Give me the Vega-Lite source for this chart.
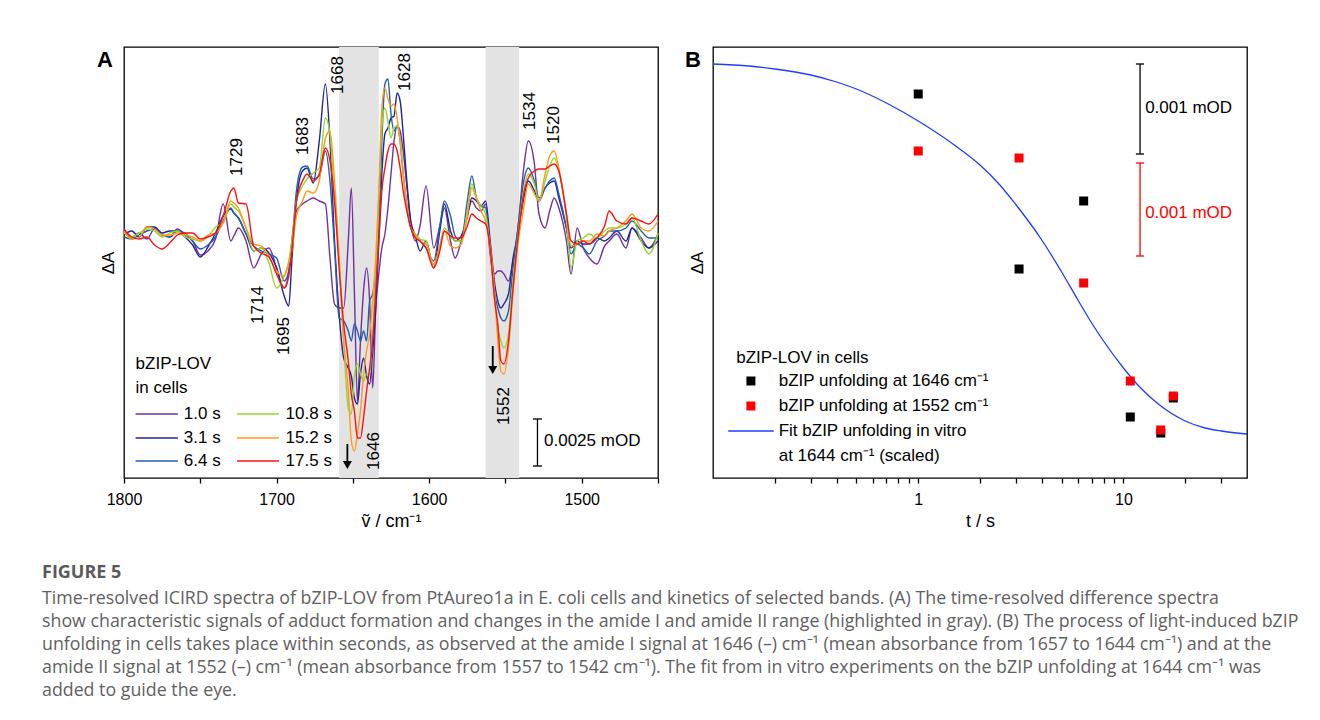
{
"$schema":"https://vega.github.io/schema/vega-lite/v6.json",
"background":"white",
"padding":{"left":42,"top":46,"right":10,"bottom":10},
"config":{
 "view":{"stroke":"black","strokeWidth":1.3},
 "font":"Liberation Sans",
 "axis":{"labelFont":"Liberation Sans","titleFont":"Liberation Sans","labelFontSize":16,"titleFontSize":17,"titleFontWeight":"normal","labelColor":"black","titleColor":"black","tickColor":"black","grid":false,"domain":false},
 "text":{"font":"Liberation Sans","fontSize":17}
},
"title":{"text":"FIGURE 5","subtitle":["Time-resolved ICIRD spectra of bZIP-LOV from PtAureo1a in E. coli cells and kinetics of selected bands. (A) The time-resolved difference spectra","show characteristic signals of adduct formation and changes in the amide I and amide II range (highlighted in gray). (B) The process of light-induced bZIP","unfolding in cells takes place within seconds, as observed at the amide I signal at 1646 (–) cm⁻¹ (mean absorbance from 1657 to 1644 cm⁻¹) and at the","amide II signal at 1552 (–) cm⁻¹ (mean absorbance from 1557 to 1542 cm⁻¹). The fit from in vitro experiments on the bZIP unfolding at 1644 cm⁻¹ was","added to guide the eye."],
 "orient":"bottom","anchor":"start","frame":"group","dx":-82,"offset":33,"font":"Open Sans","fontSize":18,"fontWeight":"bold","color":"#5a5a5a","subtitleFont":"Open Sans","subtitleFontSize":17.8,"subtitleColor":"#5f5f5f","subtitleLineHeight":23,"subtitlePadding":8,"limit":1300},
"spacing":55,
"bounds":"flush",
"resolve":{"scale":{"color":"independent"}},
"hconcat":[
{
 "width":534,"height":431,
 "title":{"text":"A","anchor":"start","frame":"group","dx":-27,"dy":25,"offset":0,"fontSize":22,"fontWeight":"bold","font":"Liberation Sans","color":"black"},
 "encoding":{
  "x":{"field":"w","type":"quantitative","scale":{"domain":[1450,1800],"reverse":true,"nice":false,"zero":false},
   "axis":{"title":"ṽ / cm⁻¹","values":[1800,1750,1700,1650,1600,1550,1500,1450],"format":"d","labelExpr":"datum.value % 100 === 0 ? datum.label : ''","tickSize":5,"tickWidth":1.3,"labelPadding":8,"titlePadding":5,"titleFontSize":18,"labelFlush":false,"labelOverlap":false}},
  "y":{"field":"v","type":"quantitative","scale":{"domain":[-245,186],"nice":false,"zero":false},
   "axis":{"title":"ΔA","labels":false,"ticks":false,"titlePadding":7,"titleFontSize":17}}
 },
 "layer":[
  {"data":{"values":[{"w":1659,"w2":1633,"v":186,"v2":-245},{"w":1563,"w2":1541,"v":186,"v2":-245}]},
   "mark":{"type":"rect","color":"#e3e3e3"},
   "encoding":{"x2":{"field":"w2"},"y2":{"field":"v2"}}},
  {"data":{"values":[
{"t":"1.0 s","w":1800,"v":2},{"t":"1.0 s","w":1795,"v":-4},{"t":"1.0 s","w":1790,"v":0},{"t":"1.0 s","w":1785,"v":-6},{"t":"1.0 s","w":1780,"v":4},{"t":"1.0 s","w":1775,"v":-2},{"t":"1.0 s","w":1770,"v":-4},{"t":"1.0 s","w":1765,"v":4},{"t":"1.0 s","w":1760,"v":-2},{"t":"1.0 s","w":1755,"v":-8},{"t":"1.0 s","w":1750,"v":-22},{"t":"1.0 s","w":1745,"v":-18},{"t":"1.0 s","w":1740,"v":-6},{"t":"1.0 s","w":1735,"v":29},{"t":"1.0 s","w":1730,"v":-8},{"t":"1.0 s","w":1728,"v":-3},{"t":"1.0 s","w":1725,"v":5},{"t":"1.0 s","w":1720,"v":-8},{"t":"1.0 s","w":1715,"v":-35},{"t":"1.0 s","w":1710,"v":-21},{"t":"1.0 s","w":1705,"v":-15},{"t":"1.0 s","w":1700,"v":-35},{"t":"1.0 s","w":1695,"v":-55},{"t":"1.0 s","w":1692,"v":-38},{"t":"1.0 s","w":1690,"v":-8},{"t":"1.0 s","w":1687,"v":22},{"t":"1.0 s","w":1683,"v":29},{"t":"1.0 s","w":1680,"v":32},{"t":"1.0 s","w":1676,"v":35},{"t":"1.0 s","w":1672,"v":32},{"t":"1.0 s","w":1668,"v":29},{"t":"1.0 s","w":1665,"v":-25},{"t":"1.0 s","w":1662,"v":-71},{"t":"1.0 s","w":1659,"v":-75},{"t":"1.0 s","w":1656,"v":-75},{"t":"1.0 s","w":1653,"v":-8},{"t":"1.0 s","w":1651,"v":45},{"t":"1.0 s","w":1649,"v":-58},{"t":"1.0 s","w":1647,"v":-168},{"t":"1.0 s","w":1645,"v":-108},{"t":"1.0 s","w":1643,"v":-58},{"t":"1.0 s","w":1641,"v":-35},{"t":"1.0 s","w":1639,"v":-68},{"t":"1.0 s","w":1637,"v":-155},{"t":"1.0 s","w":1635,"v":-75},{"t":"1.0 s","w":1633,"v":-41},{"t":"1.0 s","w":1631,"v":-15},{"t":"1.0 s","w":1629,"v":-1},{"t":"1.0 s","w":1627,"v":25},{"t":"1.0 s","w":1625,"v":59},{"t":"1.0 s","w":1623,"v":92},{"t":"1.0 s","w":1621,"v":107},{"t":"1.0 s","w":1619,"v":102},{"t":"1.0 s","w":1617,"v":82},{"t":"1.0 s","w":1615,"v":52},{"t":"1.0 s","w":1612,"v":9},{"t":"1.0 s","w":1609,"v":-8},{"t":"1.0 s","w":1606,"v":7},{"t":"1.0 s","w":1602,"v":47},{"t":"1.0 s","w":1597,"v":-15},{"t":"1.0 s","w":1593,"v":7},{"t":"1.0 s","w":1590,"v":25},{"t":"1.0 s","w":1586,"v":-8},{"t":"1.0 s","w":1583,"v":-25},{"t":"1.0 s","w":1579,"v":-8},{"t":"1.0 s","w":1575,"v":17},{"t":"1.0 s","w":1572,"v":32},{"t":"1.0 s","w":1569,"v":25},{"t":"1.0 s","w":1566,"v":22},{"t":"1.0 s","w":1563,"v":29},{"t":"1.0 s","w":1560,"v":-21},{"t":"1.0 s","w":1557,"v":-41},{"t":"1.0 s","w":1555,"v":-38},{"t":"1.0 s","w":1553,"v":-38},{"t":"1.0 s","w":1551,"v":-41},{"t":"1.0 s","w":1548,"v":-48},{"t":"1.0 s","w":1545,"v":-28},{"t":"1.0 s","w":1542,"v":2},{"t":"1.0 s","w":1538,"v":65},{"t":"1.0 s","w":1535,"v":92},{"t":"1.0 s","w":1531,"v":69},{"t":"1.0 s","w":1528,"v":19},{"t":"1.0 s","w":1524,"v":5},{"t":"1.0 s","w":1521,"v":22},{"t":"1.0 s","w":1518,"v":35},{"t":"1.0 s","w":1515,"v":25},{"t":"1.0 s","w":1510,"v":-8},{"t":"1.0 s","w":1507,"v":-41},{"t":"1.0 s","w":1503,"v":5},{"t":"1.0 s","w":1499,"v":-15},{"t":"1.0 s","w":1495,"v":-25},{"t":"1.0 s","w":1490,"v":-31},{"t":"1.0 s","w":1485,"v":-13},{"t":"1.0 s","w":1482,"v":-8},{"t":"1.0 s","w":1477,"v":-1},{"t":"1.0 s","w":1471,"v":-15},{"t":"1.0 s","w":1467,"v":5},{"t":"1.0 s","w":1461,"v":-5},{"t":"1.0 s","w":1456,"v":-15},{"t":"1.0 s","w":1450,"v":-1},
{"t":"3.1 s","w":1800,"v":-2},{"t":"3.1 s","w":1795,"v":2},{"t":"3.1 s","w":1790,"v":-4},{"t":"3.1 s","w":1785,"v":6},{"t":"3.1 s","w":1780,"v":6},{"t":"3.1 s","w":1775,"v":0},{"t":"3.1 s","w":1770,"v":2},{"t":"3.1 s","w":1765,"v":2},{"t":"3.1 s","w":1760,"v":-4},{"t":"3.1 s","w":1755,"v":-12},{"t":"3.1 s","w":1750,"v":-24},{"t":"3.1 s","w":1745,"v":-14},{"t":"3.1 s","w":1740,"v":0},{"t":"3.1 s","w":1735,"v":17},{"t":"3.1 s","w":1730,"v":24},{"t":"3.1 s","w":1728,"v":20},{"t":"3.1 s","w":1725,"v":15},{"t":"3.1 s","w":1720,"v":-1},{"t":"3.1 s","w":1715,"v":-18},{"t":"3.1 s","w":1710,"v":-15},{"t":"3.1 s","w":1705,"v":-20},{"t":"3.1 s","w":1700,"v":-35},{"t":"3.1 s","w":1695,"v":-63},{"t":"3.1 s","w":1692,"v":-73},{"t":"3.1 s","w":1690,"v":-28},{"t":"3.1 s","w":1687,"v":32},{"t":"3.1 s","w":1683,"v":62},{"t":"3.1 s","w":1680,"v":65},{"t":"3.1 s","w":1676,"v":50},{"t":"3.1 s","w":1672,"v":92},{"t":"3.1 s","w":1668,"v":149},{"t":"3.1 s","w":1665,"v":92},{"t":"3.1 s","w":1662,"v":-8},{"t":"3.1 s","w":1659,"v":-81},{"t":"3.1 s","w":1656,"v":-125},{"t":"3.1 s","w":1653,"v":-135},{"t":"3.1 s","w":1651,"v":-143},{"t":"3.1 s","w":1649,"v":-165},{"t":"3.1 s","w":1647,"v":-171},{"t":"3.1 s","w":1645,"v":-141},{"t":"3.1 s","w":1643,"v":-125},{"t":"3.1 s","w":1641,"v":-143},{"t":"3.1 s","w":1639,"v":-151},{"t":"3.1 s","w":1637,"v":-118},{"t":"3.1 s","w":1635,"v":-75},{"t":"3.1 s","w":1633,"v":-8},{"t":"3.1 s","w":1631,"v":59},{"t":"3.1 s","w":1629,"v":99},{"t":"3.1 s","w":1627,"v":105},{"t":"3.1 s","w":1625,"v":115},{"t":"3.1 s","w":1623,"v":117},{"t":"3.1 s","w":1621,"v":140},{"t":"3.1 s","w":1619,"v":132},{"t":"3.1 s","w":1617,"v":99},{"t":"3.1 s","w":1615,"v":59},{"t":"3.1 s","w":1612,"v":12},{"t":"3.1 s","w":1609,"v":-3},{"t":"3.1 s","w":1606,"v":-18},{"t":"3.1 s","w":1602,"v":-8},{"t":"3.1 s","w":1597,"v":-35},{"t":"3.1 s","w":1593,"v":2},{"t":"3.1 s","w":1590,"v":29},{"t":"3.1 s","w":1586,"v":2},{"t":"3.1 s","w":1583,"v":-8},{"t":"3.1 s","w":1579,"v":-3},{"t":"3.1 s","w":1575,"v":17},{"t":"3.1 s","w":1572,"v":35},{"t":"3.1 s","w":1569,"v":32},{"t":"3.1 s","w":1566,"v":27},{"t":"3.1 s","w":1563,"v":32},{"t":"3.1 s","w":1560,"v":-8},{"t":"3.1 s","w":1557,"v":-51},{"t":"3.1 s","w":1555,"v":-68},{"t":"3.1 s","w":1553,"v":-75},{"t":"3.1 s","w":1551,"v":-71},{"t":"3.1 s","w":1548,"v":-61},{"t":"3.1 s","w":1545,"v":-25},{"t":"3.1 s","w":1542,"v":-3},{"t":"3.1 s","w":1538,"v":35},{"t":"3.1 s","w":1535,"v":52},{"t":"3.1 s","w":1531,"v":42},{"t":"3.1 s","w":1528,"v":32},{"t":"3.1 s","w":1524,"v":45},{"t":"3.1 s","w":1521,"v":50},{"t":"3.1 s","w":1518,"v":52},{"t":"3.1 s","w":1515,"v":35},{"t":"3.1 s","w":1510,"v":5},{"t":"3.1 s","w":1507,"v":-15},{"t":"3.1 s","w":1503,"v":-8},{"t":"3.1 s","w":1499,"v":-11},{"t":"3.1 s","w":1495,"v":-11},{"t":"3.1 s","w":1490,"v":-5},{"t":"3.1 s","w":1485,"v":-8},{"t":"3.1 s","w":1482,"v":-5},{"t":"3.1 s","w":1477,"v":2},{"t":"3.1 s","w":1471,"v":-8},{"t":"3.1 s","w":1467,"v":5},{"t":"3.1 s","w":1461,"v":-8},{"t":"3.1 s","w":1456,"v":-15},{"t":"3.1 s","w":1450,"v":-8},
{"t":"6.4 s","w":1800,"v":-4},{"t":"6.4 s","w":1795,"v":-6},{"t":"6.4 s","w":1790,"v":-2},{"t":"6.4 s","w":1785,"v":2},{"t":"6.4 s","w":1780,"v":4},{"t":"6.4 s","w":1775,"v":-2},{"t":"6.4 s","w":1770,"v":-4},{"t":"6.4 s","w":1765,"v":2},{"t":"6.4 s","w":1760,"v":0},{"t":"6.4 s","w":1755,"v":-8},{"t":"6.4 s","w":1750,"v":-16},{"t":"6.4 s","w":1745,"v":-12},{"t":"6.4 s","w":1740,"v":-4},{"t":"6.4 s","w":1735,"v":12},{"t":"6.4 s","w":1730,"v":25},{"t":"6.4 s","w":1728,"v":20},{"t":"6.4 s","w":1725,"v":15},{"t":"6.4 s","w":1720,"v":-1},{"t":"6.4 s","w":1715,"v":-13},{"t":"6.4 s","w":1710,"v":-18},{"t":"6.4 s","w":1705,"v":-21},{"t":"6.4 s","w":1700,"v":-25},{"t":"6.4 s","w":1695,"v":-48},{"t":"6.4 s","w":1692,"v":-38},{"t":"6.4 s","w":1690,"v":-13},{"t":"6.4 s","w":1687,"v":42},{"t":"6.4 s","w":1683,"v":66},{"t":"6.4 s","w":1680,"v":67},{"t":"6.4 s","w":1676,"v":54},{"t":"6.4 s","w":1672,"v":57},{"t":"6.4 s","w":1668,"v":82},{"t":"6.4 s","w":1665,"v":52},{"t":"6.4 s","w":1662,"v":-15},{"t":"6.4 s","w":1659,"v":-85},{"t":"6.4 s","w":1656,"v":-88},{"t":"6.4 s","w":1653,"v":-98},{"t":"6.4 s","w":1651,"v":-108},{"t":"6.4 s","w":1649,"v":-91},{"t":"6.4 s","w":1647,"v":-98},{"t":"6.4 s","w":1645,"v":-108},{"t":"6.4 s","w":1643,"v":-98},{"t":"6.4 s","w":1641,"v":-108},{"t":"6.4 s","w":1639,"v":-68},{"t":"6.4 s","w":1637,"v":-61},{"t":"6.4 s","w":1635,"v":-41},{"t":"6.4 s","w":1633,"v":7},{"t":"6.4 s","w":1631,"v":92},{"t":"6.4 s","w":1629,"v":149},{"t":"6.4 s","w":1627,"v":154},{"t":"6.4 s","w":1625,"v":119},{"t":"6.4 s","w":1623,"v":102},{"t":"6.4 s","w":1621,"v":107},{"t":"6.4 s","w":1619,"v":92},{"t":"6.4 s","w":1617,"v":59},{"t":"6.4 s","w":1615,"v":32},{"t":"6.4 s","w":1612,"v":5},{"t":"6.4 s","w":1609,"v":-3},{"t":"6.4 s","w":1606,"v":-8},{"t":"6.4 s","w":1602,"v":-15},{"t":"6.4 s","w":1597,"v":-28},{"t":"6.4 s","w":1593,"v":7},{"t":"6.4 s","w":1590,"v":32},{"t":"6.4 s","w":1586,"v":17},{"t":"6.4 s","w":1583,"v":-3},{"t":"6.4 s","w":1579,"v":-8},{"t":"6.4 s","w":1575,"v":32},{"t":"6.4 s","w":1572,"v":57},{"t":"6.4 s","w":1569,"v":35},{"t":"6.4 s","w":1566,"v":27},{"t":"6.4 s","w":1563,"v":25},{"t":"6.4 s","w":1560,"v":-18},{"t":"6.4 s","w":1557,"v":-61},{"t":"6.4 s","w":1555,"v":-75},{"t":"6.4 s","w":1553,"v":-85},{"t":"6.4 s","w":1551,"v":-88},{"t":"6.4 s","w":1548,"v":-78},{"t":"6.4 s","w":1545,"v":-35},{"t":"6.4 s","w":1542,"v":2},{"t":"6.4 s","w":1538,"v":52},{"t":"6.4 s","w":1535,"v":65},{"t":"6.4 s","w":1531,"v":52},{"t":"6.4 s","w":1528,"v":35},{"t":"6.4 s","w":1524,"v":45},{"t":"6.4 s","w":1521,"v":52},{"t":"6.4 s","w":1518,"v":55},{"t":"6.4 s","w":1515,"v":39},{"t":"6.4 s","w":1510,"v":5},{"t":"6.4 s","w":1507,"v":-21},{"t":"6.4 s","w":1503,"v":-11},{"t":"6.4 s","w":1499,"v":-15},{"t":"6.4 s","w":1495,"v":-21},{"t":"6.4 s","w":1490,"v":-8},{"t":"6.4 s","w":1485,"v":-3},{"t":"6.4 s","w":1482,"v":2},{"t":"6.4 s","w":1477,"v":2},{"t":"6.4 s","w":1471,"v":5},{"t":"6.4 s","w":1467,"v":12},{"t":"6.4 s","w":1461,"v":2},{"t":"6.4 s","w":1456,"v":-5},{"t":"6.4 s","w":1450,"v":-5},
{"t":"10.8 s","w":1800,"v":0},{"t":"10.8 s","w":1795,"v":-4},{"t":"10.8 s","w":1790,"v":0},{"t":"10.8 s","w":1785,"v":4},{"t":"10.8 s","w":1780,"v":2},{"t":"10.8 s","w":1775,"v":-4},{"t":"10.8 s","w":1770,"v":0},{"t":"10.8 s","w":1765,"v":2},{"t":"10.8 s","w":1760,"v":-4},{"t":"10.8 s","w":1755,"v":-6},{"t":"10.8 s","w":1750,"v":-8},{"t":"10.8 s","w":1745,"v":-4},{"t":"10.8 s","w":1740,"v":6},{"t":"10.8 s","w":1735,"v":10},{"t":"10.8 s","w":1730,"v":29},{"t":"10.8 s","w":1728,"v":26},{"t":"10.8 s","w":1725,"v":22},{"t":"10.8 s","w":1720,"v":5},{"t":"10.8 s","w":1715,"v":-18},{"t":"10.8 s","w":1710,"v":-15},{"t":"10.8 s","w":1705,"v":-30},{"t":"10.8 s","w":1700,"v":-55},{"t":"10.8 s","w":1695,"v":-43},{"t":"10.8 s","w":1692,"v":-28},{"t":"10.8 s","w":1690,"v":-8},{"t":"10.8 s","w":1687,"v":32},{"t":"10.8 s","w":1683,"v":47},{"t":"10.8 s","w":1680,"v":54},{"t":"10.8 s","w":1676,"v":60},{"t":"10.8 s","w":1672,"v":65},{"t":"10.8 s","w":1668,"v":115},{"t":"10.8 s","w":1665,"v":99},{"t":"10.8 s","w":1662,"v":32},{"t":"10.8 s","w":1659,"v":-25},{"t":"10.8 s","w":1656,"v":-108},{"t":"10.8 s","w":1653,"v":-175},{"t":"10.8 s","w":1651,"v":-181},{"t":"10.8 s","w":1649,"v":-143},{"t":"10.8 s","w":1647,"v":-131},{"t":"10.8 s","w":1645,"v":-141},{"t":"10.8 s","w":1643,"v":-148},{"t":"10.8 s","w":1641,"v":-141},{"t":"10.8 s","w":1639,"v":-141},{"t":"10.8 s","w":1637,"v":-101},{"t":"10.8 s","w":1635,"v":-41},{"t":"10.8 s","w":1633,"v":32},{"t":"10.8 s","w":1631,"v":105},{"t":"10.8 s","w":1629,"v":125},{"t":"10.8 s","w":1627,"v":112},{"t":"10.8 s","w":1625,"v":95},{"t":"10.8 s","w":1623,"v":105},{"t":"10.8 s","w":1621,"v":107},{"t":"10.8 s","w":1619,"v":92},{"t":"10.8 s","w":1617,"v":59},{"t":"10.8 s","w":1615,"v":32},{"t":"10.8 s","w":1612,"v":5},{"t":"10.8 s","w":1609,"v":-1},{"t":"10.8 s","w":1606,"v":-6},{"t":"10.8 s","w":1602,"v":-8},{"t":"10.8 s","w":1597,"v":-35},{"t":"10.8 s","w":1593,"v":-13},{"t":"10.8 s","w":1590,"v":5},{"t":"10.8 s","w":1586,"v":-3},{"t":"10.8 s","w":1583,"v":-8},{"t":"10.8 s","w":1579,"v":-8},{"t":"10.8 s","w":1575,"v":22},{"t":"10.8 s","w":1572,"v":49},{"t":"10.8 s","w":1569,"v":35},{"t":"10.8 s","w":1566,"v":27},{"t":"10.8 s","w":1563,"v":19},{"t":"10.8 s","w":1560,"v":-18},{"t":"10.8 s","w":1557,"v":-68},{"t":"10.8 s","w":1555,"v":-95},{"t":"10.8 s","w":1553,"v":-108},{"t":"10.8 s","w":1551,"v":-115},{"t":"10.8 s","w":1548,"v":-101},{"t":"10.8 s","w":1545,"v":-48},{"t":"10.8 s","w":1542,"v":-6},{"t":"10.8 s","w":1538,"v":42},{"t":"10.8 s","w":1535,"v":59},{"t":"10.8 s","w":1531,"v":49},{"t":"10.8 s","w":1528,"v":32},{"t":"10.8 s","w":1524,"v":52},{"t":"10.8 s","w":1521,"v":67},{"t":"10.8 s","w":1518,"v":75},{"t":"10.8 s","w":1515,"v":62},{"t":"10.8 s","w":1510,"v":15},{"t":"10.8 s","w":1507,"v":-35},{"t":"10.8 s","w":1503,"v":-8},{"t":"10.8 s","w":1499,"v":-5},{"t":"10.8 s","w":1495,"v":-1},{"t":"10.8 s","w":1490,"v":-5},{"t":"10.8 s","w":1485,"v":2},{"t":"10.8 s","w":1482,"v":5},{"t":"10.8 s","w":1477,"v":5},{"t":"10.8 s","w":1471,"v":9},{"t":"10.8 s","w":1467,"v":15},{"t":"10.8 s","w":1461,"v":-8},{"t":"10.8 s","w":1456,"v":-21},{"t":"10.8 s","w":1450,"v":0},
{"t":"15.2 s","w":1800,"v":2},{"t":"15.2 s","w":1795,"v":-6},{"t":"15.2 s","w":1790,"v":-4},{"t":"15.2 s","w":1785,"v":6},{"t":"15.2 s","w":1780,"v":4},{"t":"15.2 s","w":1775,"v":-2},{"t":"15.2 s","w":1770,"v":-2},{"t":"15.2 s","w":1765,"v":0},{"t":"15.2 s","w":1760,"v":-2},{"t":"15.2 s","w":1755,"v":-4},{"t":"15.2 s","w":1750,"v":-8},{"t":"15.2 s","w":1745,"v":-2},{"t":"15.2 s","w":1740,"v":0},{"t":"15.2 s","w":1735,"v":10},{"t":"15.2 s","w":1730,"v":32},{"t":"15.2 s","w":1728,"v":30},{"t":"15.2 s","w":1725,"v":25},{"t":"15.2 s","w":1720,"v":5},{"t":"15.2 s","w":1715,"v":-11},{"t":"15.2 s","w":1710,"v":-13},{"t":"15.2 s","w":1705,"v":-23},{"t":"15.2 s","w":1700,"v":-38},{"t":"15.2 s","w":1695,"v":-43},{"t":"15.2 s","w":1692,"v":-30},{"t":"15.2 s","w":1690,"v":-18},{"t":"15.2 s","w":1687,"v":17},{"t":"15.2 s","w":1683,"v":32},{"t":"15.2 s","w":1680,"v":42},{"t":"15.2 s","w":1676,"v":40},{"t":"15.2 s","w":1672,"v":52},{"t":"15.2 s","w":1668,"v":95},{"t":"15.2 s","w":1665,"v":102},{"t":"15.2 s","w":1662,"v":52},{"t":"15.2 s","w":1659,"v":-25},{"t":"15.2 s","w":1656,"v":-108},{"t":"15.2 s","w":1653,"v":-158},{"t":"15.2 s","w":1651,"v":-208},{"t":"15.2 s","w":1649,"v":-218},{"t":"15.2 s","w":1647,"v":-201},{"t":"15.2 s","w":1645,"v":-178},{"t":"15.2 s","w":1643,"v":-141},{"t":"15.2 s","w":1641,"v":-118},{"t":"15.2 s","w":1639,"v":-101},{"t":"15.2 s","w":1637,"v":-68},{"t":"15.2 s","w":1635,"v":-25},{"t":"15.2 s","w":1633,"v":42},{"t":"15.2 s","w":1631,"v":125},{"t":"15.2 s","w":1629,"v":145},{"t":"15.2 s","w":1627,"v":134},{"t":"15.2 s","w":1625,"v":127},{"t":"15.2 s","w":1623,"v":129},{"t":"15.2 s","w":1621,"v":115},{"t":"15.2 s","w":1619,"v":92},{"t":"15.2 s","w":1617,"v":59},{"t":"15.2 s","w":1615,"v":32},{"t":"15.2 s","w":1612,"v":5},{"t":"15.2 s","w":1609,"v":-3},{"t":"15.2 s","w":1606,"v":-8},{"t":"15.2 s","w":1602,"v":-11},{"t":"15.2 s","w":1597,"v":-31},{"t":"15.2 s","w":1593,"v":-13},{"t":"15.2 s","w":1590,"v":2},{"t":"15.2 s","w":1586,"v":-13},{"t":"15.2 s","w":1583,"v":-15},{"t":"15.2 s","w":1579,"v":-11},{"t":"15.2 s","w":1575,"v":17},{"t":"15.2 s","w":1572,"v":45},{"t":"15.2 s","w":1569,"v":35},{"t":"15.2 s","w":1566,"v":22},{"t":"15.2 s","w":1563,"v":12},{"t":"15.2 s","w":1560,"v":-13},{"t":"15.2 s","w":1557,"v":-61},{"t":"15.2 s","w":1555,"v":-108},{"t":"15.2 s","w":1553,"v":-138},{"t":"15.2 s","w":1551,"v":-141},{"t":"15.2 s","w":1548,"v":-115},{"t":"15.2 s","w":1545,"v":-58},{"t":"15.2 s","w":1542,"v":-13},{"t":"15.2 s","w":1538,"v":25},{"t":"15.2 s","w":1535,"v":49},{"t":"15.2 s","w":1531,"v":39},{"t":"15.2 s","w":1528,"v":32},{"t":"15.2 s","w":1524,"v":59},{"t":"15.2 s","w":1521,"v":77},{"t":"15.2 s","w":1518,"v":82},{"t":"15.2 s","w":1515,"v":65},{"t":"15.2 s","w":1510,"v":19},{"t":"15.2 s","w":1507,"v":-13},{"t":"15.2 s","w":1503,"v":-11},{"t":"15.2 s","w":1499,"v":-8},{"t":"15.2 s","w":1495,"v":-8},{"t":"15.2 s","w":1490,"v":-1},{"t":"15.2 s","w":1485,"v":-3},{"t":"15.2 s","w":1482,"v":2},{"t":"15.2 s","w":1477,"v":5},{"t":"15.2 s","w":1471,"v":12},{"t":"15.2 s","w":1467,"v":19},{"t":"15.2 s","w":1461,"v":5},{"t":"15.2 s","w":1456,"v":2},{"t":"15.2 s","w":1450,"v":12},
{"t":"17.5 s","w":1800,"v":4},{"t":"17.5 s","w":1795,"v":-4},{"t":"17.5 s","w":1790,"v":-6},{"t":"17.5 s","w":1785,"v":-4},{"t":"17.5 s","w":1780,"v":-12},{"t":"17.5 s","w":1775,"v":-16},{"t":"17.5 s","w":1770,"v":-10},{"t":"17.5 s","w":1765,"v":-2},{"t":"17.5 s","w":1760,"v":0},{"t":"17.5 s","w":1755,"v":0},{"t":"17.5 s","w":1750,"v":-6},{"t":"17.5 s","w":1745,"v":-4},{"t":"17.5 s","w":1740,"v":0},{"t":"17.5 s","w":1735,"v":17},{"t":"17.5 s","w":1730,"v":42},{"t":"17.5 s","w":1728,"v":45},{"t":"17.5 s","w":1725,"v":30},{"t":"17.5 s","w":1720,"v":29},{"t":"17.5 s","w":1715,"v":-13},{"t":"17.5 s","w":1710,"v":-20},{"t":"17.5 s","w":1705,"v":-24},{"t":"17.5 s","w":1700,"v":-41},{"t":"17.5 s","w":1695,"v":-55},{"t":"17.5 s","w":1692,"v":-43},{"t":"17.5 s","w":1690,"v":-18},{"t":"17.5 s","w":1687,"v":32},{"t":"17.5 s","w":1683,"v":52},{"t":"17.5 s","w":1680,"v":59},{"t":"17.5 s","w":1676,"v":52},{"t":"17.5 s","w":1672,"v":59},{"t":"17.5 s","w":1668,"v":85},{"t":"17.5 s","w":1665,"v":72},{"t":"17.5 s","w":1662,"v":32},{"t":"17.5 s","w":1659,"v":-35},{"t":"17.5 s","w":1656,"v":-91},{"t":"17.5 s","w":1653,"v":-128},{"t":"17.5 s","w":1651,"v":-161},{"t":"17.5 s","w":1649,"v":-178},{"t":"17.5 s","w":1647,"v":-205},{"t":"17.5 s","w":1645,"v":-205},{"t":"17.5 s","w":1643,"v":-185},{"t":"17.5 s","w":1641,"v":-158},{"t":"17.5 s","w":1639,"v":-135},{"t":"17.5 s","w":1637,"v":-108},{"t":"17.5 s","w":1635,"v":-58},{"t":"17.5 s","w":1633,"v":-8},{"t":"17.5 s","w":1631,"v":42},{"t":"17.5 s","w":1629,"v":65},{"t":"17.5 s","w":1627,"v":82},{"t":"17.5 s","w":1625,"v":89},{"t":"17.5 s","w":1623,"v":89},{"t":"17.5 s","w":1621,"v":82},{"t":"17.5 s","w":1619,"v":65},{"t":"17.5 s","w":1617,"v":42},{"t":"17.5 s","w":1615,"v":25},{"t":"17.5 s","w":1612,"v":5},{"t":"17.5 s","w":1609,"v":-5},{"t":"17.5 s","w":1606,"v":-8},{"t":"17.5 s","w":1602,"v":-15},{"t":"17.5 s","w":1597,"v":-35},{"t":"17.5 s","w":1593,"v":-18},{"t":"17.5 s","w":1590,"v":2},{"t":"17.5 s","w":1586,"v":-3},{"t":"17.5 s","w":1583,"v":-5},{"t":"17.5 s","w":1579,"v":-5},{"t":"17.5 s","w":1575,"v":7},{"t":"17.5 s","w":1572,"v":19},{"t":"17.5 s","w":1569,"v":15},{"t":"17.5 s","w":1566,"v":12},{"t":"17.5 s","w":1563,"v":9},{"t":"17.5 s","w":1560,"v":-16},{"t":"17.5 s","w":1557,"v":-68},{"t":"17.5 s","w":1555,"v":-91},{"t":"17.5 s","w":1553,"v":-128},{"t":"17.5 s","w":1551,"v":-131},{"t":"17.5 s","w":1548,"v":-108},{"t":"17.5 s","w":1545,"v":-55},{"t":"17.5 s","w":1542,"v":-8},{"t":"17.5 s","w":1538,"v":39},{"t":"17.5 s","w":1535,"v":55},{"t":"17.5 s","w":1531,"v":62},{"t":"17.5 s","w":1528,"v":64},{"t":"17.5 s","w":1524,"v":64},{"t":"17.5 s","w":1521,"v":67},{"t":"17.5 s","w":1518,"v":69},{"t":"17.5 s","w":1515,"v":62},{"t":"17.5 s","w":1510,"v":19},{"t":"17.5 s","w":1507,"v":-8},{"t":"17.5 s","w":1503,"v":-11},{"t":"17.5 s","w":1499,"v":-8},{"t":"17.5 s","w":1495,"v":-11},{"t":"17.5 s","w":1490,"v":-5},{"t":"17.5 s","w":1485,"v":7},{"t":"17.5 s","w":1482,"v":22},{"t":"17.5 s","w":1477,"v":12},{"t":"17.5 s","w":1471,"v":9},{"t":"17.5 s","w":1467,"v":15},{"t":"17.5 s","w":1461,"v":12},{"t":"17.5 s","w":1456,"v":9},{"t":"17.5 s","w":1450,"v":19}
   ]},
   "mark":{"type":"line","strokeWidth":1.4,"interpolate":"monotone"},
   "encoding":{"color":{"field":"t","type":"nominal","sort":null,"scale":{"domain":["1.0 s","3.1 s","6.4 s","10.8 s","15.2 s","17.5 s"],"range":["#7030a0","#23239b","#1f5fb3","#92d92a","#ff9a1a","#ff1010"]},"legend":null}}},
  {"data":{"values":[{"lab":"1729","w":1726,"v":76},{"lab":"1683","w":1683,"v":97},{"lab":"1668","w":1660,"v":158},{"lab":"1628","w":1616,"v":161},{"lab":"1534","w":1534,"v":122},{"lab":"1520","w":1518,"v":108},{"lab":"1714","w":1712.5,"v":-72},{"lab":"1695","w":1695,"v":-103},{"lab":"1646","w":1636,"v":-218},{"lab":"1552","w":1551,"v":-173}]},
   "mark":{"type":"text","angle":270,"fontSize":17,"color":"black","align":"center","baseline":"middle"},
   "encoding":{"text":{"field":"lab"}}},
  {"data":{"values":[{"w":1653.6,"w2":1653.6,"v":-211,"v2":-230},{"w":1558.3,"w2":1558.3,"v":-113,"v2":-134}]},
   "mark":{"type":"rule","color":"black","strokeWidth":1.8},
   "encoding":{"x2":{"field":"w2"},"y2":{"field":"v2"}}},
  {"data":{"values":[{"w":1653.6,"v":-232},{"w":1558.3,"v":-137}]},
   "mark":{"type":"point","shape":"triangle-down","filled":true,"color":"black","size":81,"opacity":1}},
  {"data":{"values":[{"w":1529,"w2":1529,"v":-186,"v2":-233},{"w":1532,"w2":1526,"v":-186,"v2":-186},{"w":1532,"w2":1526,"v":-233,"v2":-233}]},
   "mark":{"type":"rule","color":"black","strokeWidth":1.3},
   "encoding":{"x2":{"field":"w2"},"y2":{"field":"v2"}}},
  {"data":{"values":[{"t":"1.0 s","w":1792.4,"w2":1764.7,"v":-181},{"t":"3.1 s","w":1792.4,"w2":1764.7,"v":-205},{"t":"6.4 s","w":1792.4,"w2":1764.7,"v":-228},{"t":"10.8 s","w":1725.9,"w2":1698.4,"v":-181},{"t":"15.2 s","w":1725.9,"w2":1698.4,"v":-205},{"t":"17.5 s","w":1725.9,"w2":1698.4,"v":-228}]},
   "mark":{"type":"rule","strokeWidth":1.5},
   "encoding":{"x2":{"field":"w2"},"color":{"field":"t","type":"nominal","legend":null}}},
  {"data":{"values":[{"lab":"1.0 s","w":1760.8,"v":-181},{"lab":"3.1 s","w":1760.8,"v":-205},{"lab":"6.4 s","w":1760.8,"v":-228},{"lab":"10.8 s","w":1694.1,"v":-181},{"lab":"15.2 s","w":1694.1,"v":-205},{"lab":"17.5 s","w":1694.1,"v":-228},{"lab":"bZIP-LOV","w":1792.4,"v":-131},{"lab":"in cells","w":1792.4,"v":-155},{"lab":"0.0025 mOD","w":1524.7,"v":-208}]},
   "mark":{"type":"text","fontSize":17,"color":"black","align":"left","baseline":"middle"},
   "encoding":{"text":{"field":"lab"}}}
 ]
},
{
 "width":534,"height":431,
 "title":{"text":"B","anchor":"start","frame":"group","dx":-28,"dy":25,"offset":0,"fontSize":22,"fontWeight":"bold","font":"Liberation Sans","color":"black"},
 "encoding":{
  "x":{"field":"s","type":"quantitative","scale":{"type":"log","domain":[0.1,40],"nice":false},
   "axis":{"title":"t / s","values":[0.2,0.3,0.4,0.5,0.6,0.7,0.8,0.9,1,2,3,4,5,6,7,8,9,10,20,30],"labelExpr":"(datum.value === 1 || datum.value === 10) ? format(datum.value, 'd') : ''","tickSize":5,"tickWidth":1.3,"labelPadding":8,"titlePadding":5,"titleFontSize":18,"labelFlush":false,"labelOverlap":false}},
  "y":{"field":"v","type":"quantitative","scale":{"domain":[-245,186],"nice":false,"zero":false},
   "axis":{"title":"ΔA","labels":false,"ticks":false,"titlePadding":7,"titleFontSize":17}}
 },
 "layer":[
  {"data":{"values":[{"k":"fit","s":0.1,"v":169},{"k":"fit","s":0.15,"v":167},{"k":"fit","s":0.2,"v":164},{"k":"fit","s":0.3,"v":158},{"k":"fit","s":0.4,"v":151},{"k":"fit","s":0.5,"v":144},{"k":"fit","s":0.7,"v":130},{"k":"fit","s":1,"v":112},{"k":"fit","s":1.5,"v":88},{"k":"fit","s":2,"v":68},{"k":"fit","s":2.5,"v":48},{"k":"fit","s":3,"v":28},{"k":"fit","s":3.5,"v":10},{"k":"fit","s":4,"v":-7},{"k":"fit","s":5,"v":-39},{"k":"fit","s":6,"v":-67},{"k":"fit","s":7,"v":-90},{"k":"fit","s":8,"v":-108},{"k":"fit","s":10,"v":-135},{"k":"fit","s":12,"v":-154},{"k":"fit","s":15,"v":-172},{"k":"fit","s":20,"v":-188},{"k":"fit","s":25,"v":-195},{"k":"fit","s":30,"v":-198},{"k":"fit","s":40,"v":-201}]},
   "mark":{"type":"line","strokeWidth":1.3,"interpolate":"monotone"},
   "encoding":{"color":{"field":"k","type":"nominal","scale":{"domain":["1646","1552","fit"],"range":["#000000","#ff0000","#1f3dff"]},"legend":null}}},
  {"data":{"values":[{"k":"1646","s":1.0,"v":139},{"k":"1646","s":3.1,"v":-36},{"k":"1646","s":6.4,"v":32},{"k":"1646","s":10.8,"v":-184},{"k":"1646","s":15.2,"v":-200},{"k":"1646","s":17.5,"v":-165},{"k":"1552","s":1.0,"v":82},{"k":"1552","s":3.1,"v":75},{"k":"1552","s":6.4,"v":-50},{"k":"1552","s":10.8,"v":-148},{"k":"1552","s":15.2,"v":-197},{"k":"1552","s":17.5,"v":-163},{"k":"1646","s":0.153,"v":-148},{"k":"1552","s":0.153,"v":-173}]},
   "mark":{"type":"point","shape":"square","filled":true,"size":81,"opacity":1},
   "encoding":{"color":{"field":"k","type":"nominal","legend":null}}},
  {"data":{"values":[{"k":"1646","s":12.05,"s2":12.05,"v":169,"v2":79},{"k":"1646","s":11.5,"s2":12.6,"v":169,"v2":169},{"k":"1646","s":11.5,"s2":12.6,"v":79,"v2":79},{"k":"1552","s":12.05,"s2":12.05,"v":70,"v2":-23},{"k":"1552","s":11.5,"s2":12.6,"v":70,"v2":70},{"k":"1552","s":11.5,"s2":12.6,"v":-23,"v2":-23},{"k":"fit","s":0.1186,"s2":0.1977,"v":-198,"v2":-198}]},
   "mark":{"type":"rule","strokeWidth":1.3},
   "encoding":{"x2":{"field":"s2"},"y2":{"field":"v2"},"color":{"field":"k","type":"nominal","legend":null}}},
  {"data":{"values":[{"k":"1646","lab":"0.001 mOD","s":12.76,"v":125},{"k":"1552","lab":"0.001 mOD","s":12.76,"v":20}]},
   "mark":{"type":"text","fontSize":17,"align":"left","baseline":"middle"},
   "encoding":{"text":{"field":"lab"},"color":{"field":"k","type":"nominal","legend":null}}},
  {"data":{"values":[{"lab":"bZIP-LOV in cells","s":0.1297,"v":-125},{"lab":"bZIP unfolding at 1646 cm⁻¹","s":0.209,"v":-148},{"lab":"bZIP unfolding at 1552 cm⁻¹","s":0.209,"v":-173},{"lab":"Fit bZIP unfolding in vitro","s":0.209,"v":-198},{"lab":"at 1644 cm⁻¹ (scaled)","s":0.209,"v":-223}]},
   "mark":{"type":"text","fontSize":17,"color":"black","align":"left","baseline":"middle"},
   "encoding":{"text":{"field":"lab"}}}
 ]
}
]
}
